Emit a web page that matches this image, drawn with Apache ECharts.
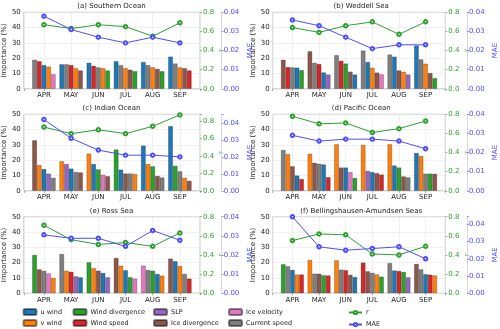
<!DOCTYPE html>
<html>
<head>
<meta charset="utf-8">
<script src="https://cdn.jsdelivr.net/npm/echarts@6/dist/echarts.min.js"></script>
<style>
  html, body { margin: 0; padding: 0; background: #fff; }
  #chart { width: 500px; height: 329px; }
</style>
</head>
<body>
<div id="chart"></div>
<script>
const months = ['APR', 'MAY', 'JUN', 'JUL', 'AUG', 'SEP'];
const varKeys = ['u', 'v', 'wd', 'ws', 'slp', 'id', 'iv', 'cs'];
const varNames = ['u wind', 'v wind', 'Wind divergence', 'Wind speed', 'SLP', 'Ice divergence', 'Ice velocity', 'Current speed'];

// (a) Southern Ocean - top 5 variables per month, sorted
const soVars = [['cs','ws','u','v','iv'], ['u','cs','ws','v','id'], ['u','ws','cs','v','wd'], ['u','cs','v','id','wd'], ['u','cs','v','id','wd'], ['u','cs','v','id','ws']];
const soImp = [[19,18,15.5,14.5,9.5], [16,16,15.5,13.5,12], [17,15,14,13.5,12], [18,15.5,13.5,12.5,11.5], [17.5,15.5,14,13,11.5], [21,16.5,14,13.5,12]];
const soR = [0.67, 0.63, 0.67, 0.65, 0.55, 0.69];
const soMae = [0.038, 0.031, 0.027, 0.024, 0.027, 0.024];

// (b) Weddell Sea
const wsVars = [['id','ws','cs','u','wd'], ['id','cs','ws','u','slp'], ['cs','ws','wd','id','u'], ['cs','u','v','id','iv'], ['cs','u','id','v','slp'], ['u','cs','v','id','wd']];
const wsImp = [[19,14.2,14,13.8,12.2], [24.5,17,16.2,10.7,9.3], [22,18.3,16.5,11.2,9.3], [25,17.5,13.7,10.6,9.4], [22.4,21,12,11.1,9.3], [28.3,19.2,16.4,10.3,7]];
const wsR = [0.64, 0.59, 0.66, 0.70, 0.57, 0.70];
const wsMae = [0.036, 0.033, 0.027, 0.021, 0.023, 0.023];

// (c) Indian Ocean
const ioVars = [['id','v','u','slp','cs'], ['v','slp','u','cs','id'], ['v','u','wd','iv','id'], ['wd','u','id','cs','v'], ['u','v','wd','id','cs'], ['u','wd','cs','v','id']];
const ioImp = [[33,16.8,14.2,11.2,8.5], [19.3,17.5,14.5,12.3,12], [24.3,17.5,14,10.5,9.5], [27,13.8,11.3,11.3,11], [29.5,17.5,16,9.7,8.7], [42.3,16.3,12.7,8.5,6.5]];
const ioR = [0.73, 0.655, 0.70, 0.655, 0.74, 0.87];
const ioMae = [0.042, 0.031, 0.024, 0.021, 0.021, 0.020];

// (d) Pacific Ocean
const poVars = [['cs','v','id','u','ws'], ['v','id','cs','u','ws'], ['v','id','u','iv','wd'], ['v','slp','u','id','ws'], ['v','u','wd','id','cs'], ['u','v','cs','wd','id']];
const poImp = [[26.7,24,16,10,7.7], [24.2,18.3,17.7,17.2,8.9], [30.4,15.2,15.2,12.2,8.4], [30,13,12.2,11.5,10.6], [30.4,16.5,15.2,9.4,8.8], [24.7,22.8,11.2,11.2,11.1]];
const poR = [0.78, 0.70, 0.71, 0.61, 0.65, 0.73];
const poMae = [0.029, 0.026, 0.027, 0.027, 0.026, 0.022];

// (e) Ross Sea
const rsVars = [['wd','id','cs','iv','v'], ['cs','v','ws','slp','u'], ['wd','v','id','u','slp'], ['id','v','u','wd','iv'], ['iv','cs','wd','u','v'], ['id','u','v','cs','ws']];
const rsImp = [[25,15.6,14.6,13,10], [25.6,14.7,14,11,10.4], [20.2,16.3,14.7,13.2,10.4], [23,18,15,10.4,9.5], [18,15.2,14.7,12.6,11.5], [22.6,20.9,17.8,12.6,9.5]];
const rsR = [0.71, 0.56, 0.51, 0.53, 0.49, 0.63];
const rsMae = [0.0305, 0.0287, 0.0287, 0.0245, 0.0328, 0.0277];

// (f) Bellingshausen-Amundsen Seas
const baVars = [['wd','cs','u','v','ws'], ['v','cs','id','wd','ws'], ['v','cs','ws','id','u'], ['ws','id','cs','v','wd'], ['cs','u','ws','wd','slp'], ['id','cs','u','ws','v']];
const baImp = [[18.9,17.6,15.2,12.2,12.2], [21.7,12.8,12.7,11.7,11.6], [21.5,15.4,15,12,10.6], [20,14.3,13.3,12.3,10.8], [19.7,14.8,14.5,13.9,10.4], [19.1,15.6,12.4,12.1,11.6]];
const baR = [0.55, 0.62, 0.61, 0.41, 0.40, 0.49];
const baMae = [0.0445, 0.027, 0.025, 0.026, 0.027, 0.020];

const varColors = {
  u: '#1f77b4', v: '#ff7f0e', wd: '#2ca02c', ws: '#d62728',
  slp: '#9467bd', id: '#8c564b', iv: '#e377c2', cs: '#7f7f7f'
};
const rColor = '#2ca02c';
const maeColor = '#4d4dff';
const font = 'DejaVu Sans';

const panels = [
  { title: '(a) Southern Ocean', vars: soVars, imp: soImp, r: soR, mae: soMae, rMax: 0.8, maeMax: 0.04 },
  { title: '(b) Weddell Sea', vars: wsVars, imp: wsImp, r: wsR, mae: wsMae, rMax: 0.8, maeMax: 0.04 },
  { title: '(c) Indian Ocean', vars: ioVars, imp: ioImp, r: ioR, mae: ioMae, rMax: 0.877, maeMax: 0.0451 },
  { title: '(d) Pacific Ocean', vars: poVars, imp: poImp, r: poR, mae: poMae, rMax: 0.8, maeMax: 0.04 },
  { title: '(e) Ross Sea', vars: rsVars, imp: rsImp, r: rsR, mae: rsMae, rMax: 0.8, maeMax: 0.04 },
  { title: '(f) Bellingshausen-Amundsen Seas', vars: baVars, imp: baImp, r: baR, mae: baMae, rMax: 0.8, maeMax: 0.0445 }
];

const colLeft = [23, 272.7];
const rowTop = [12.3, 114.3, 216.7];
const gw = 177, gh = 76.5;

function onStep(v, step, digits) {
  const k = v / step;
  return Math.abs(k - Math.round(k)) < 1e-6 ? v.toFixed(digits) : '';
}

const grids = [], xAxes = [], yAxes = [], series = [], titles = [];

panels.forEach((p, k) => {
  const left = colLeft[k % 2], top = rowTop[Math.floor(k / 2)];
  grids.push({ left: left, top: top, width: gw, height: gh, show: true,
    borderColor: '#b5b5b5', borderWidth: 0.8 });
  titles.push({ text: p.title, left: left + gw / 2, top: top - 9.5, textAlign: 'center', padding: 0,
    textStyle: { fontSize: 7, fontWeight: 'normal', color: '#222', fontFamily: font } });
  xAxes.push({
    gridIndex: k, type: 'value', min: -0.74, max: 5.74, minInterval: 1, maxInterval: 1,
    axisLine: { show: false },
    axisTick: { show: true, length: 2, lineStyle: { color: '#666', width: 0.6 } },
    axisLabel: { fontSize: 7, color: '#222', margin: 3, fontFamily: font,
      formatter: v => Number.isInteger(v) && months[v] ? months[v] : '' },
    splitLine: { show: true, lineStyle: { color: '#e8e8e8', width: 0.6 } }
  });
  yAxes.push({
    gridIndex: k, type: 'value', position: 'left', min: 0, max: 50, interval: 10,
    name: 'Importance (%)', nameLocation: 'middle', nameGap: 13,
    nameTextStyle: { fontSize: 7, color: '#222', fontFamily: font },
    axisLine: { show: false },
    axisTick: { show: false },
    axisLabel: { fontSize: 7, color: '#222', margin: 3, fontFamily: font },
    splitLine: { show: true, lineStyle: { color: '#e8e8e8', width: 0.6 } }
  });
  yAxes.push({
    gridIndex: k, type: 'value', position: 'right', min: 0, max: p.rMax, interval: 0.2,
    name: 'r', nameLocation: 'middle', nameGap: 14,
    nameTextStyle: { fontSize: 7, color: rColor, fontFamily: font },
    axisLine: { show: false },
    axisTick: { show: true, length: 2, lineStyle: { color: rColor, width: 0.6 } },
    axisLabel: { fontSize: 7, color: rColor, margin: 3, fontFamily: font, formatter: v => onStep(v, 0.2, 1) },
    splitLine: { show: false }
  });
  yAxes.push({
    gridIndex: k, type: 'value', position: 'right', offset: 21.7, min: 0, max: p.maeMax, interval: 0.01,
    name: 'MAE', nameLocation: 'middle', nameGap: 25,
    nameTextStyle: { fontSize: 7, color: maeColor, fontFamily: font },
    axisLine: { show: true, lineStyle: { color: '#cfcfcf', width: 0.8 } },
    axisTick: { show: true, length: 2, lineStyle: { color: maeColor, width: 0.6 } },
    axisLabel: { fontSize: 7, color: maeColor, margin: 2, fontFamily: font, formatter: v => onStep(v, 0.01, 2) },
    splitLine: { show: false }
  });
  for (let j = 0; j < 5; j++) {
    series.push({
      type: 'bar', xAxisIndex: k, yAxisIndex: 3 * k,
      barGap: '0%', barCategoryGap: '14%', silent: true,
      itemStyle: { borderColor: 'rgba(0,0,0,0.45)', borderWidth: 0.5 },
      data: months.map((m, i) => ({
        value: [i, p.imp[i][j]],
        itemStyle: { color: varColors[p.vars[i][j]] }
      }))
    });
  }
  series.push({
    type: 'line', name: 'r', xAxisIndex: k, yAxisIndex: 3 * k + 1, z: 5,
    symbol: 'emptyCircle', symbolSize: 3.5, color: rColor,
    lineStyle: { width: 1, color: rColor }, itemStyle: { color: rColor, borderWidth: 0.7 },
    data: p.r.map((v, i) => [i, v])
  });
  series.push({
    type: 'line', name: 'MAE', xAxisIndex: k, yAxisIndex: 3 * k + 2, z: 5,
    symbol: 'emptyCircle', symbolSize: 3.5, color: maeColor,
    lineStyle: { width: 1, color: maeColor }, itemStyle: { color: maeColor, borderWidth: 0.7 },
    data: p.mae.map((v, i) => [i, v])
  });
});

// hidden grid that only carries legend entries for the variables
const hidden = panels.length;
grids.push({ left: 0, top: 0, width: 1, height: 1, show: false });
xAxes.push({ gridIndex: hidden, type: 'value', show: false });
yAxes.push({ gridIndex: hidden, type: 'value', show: false });
varKeys.forEach((key, i) => {
  series.push({
    type: 'bar', name: varNames[i], xAxisIndex: hidden, yAxisIndex: yAxes.length - 1,
    itemStyle: { color: varColors[key], borderColor: 'rgba(0,0,0,0.45)', borderWidth: 0.5 },
    data: []
  });
});

function legendCol(left, names, h) {
  return {
    orient: 'vertical', left: left, top: 308, padding: 0, itemGap: 9 - h,
    itemWidth: 13, itemHeight: h, selectedMode: false,
    textStyle: { fontSize: 6.5, color: '#222', fontFamily: font, padding: [0, 0, 0, -1] },
    data: names
  };
}

const chart = echarts.init(document.getElementById('chart'), null, { renderer: 'canvas' });
chart.setOption({
  animation: false,
  textStyle: { fontFamily: font },
  title: titles,
  grid: grids,
  xAxis: xAxes,
  yAxis: yAxes,
  legend: [
    legendCol(22.5, ['u wind', 'v wind'], 6),
    legendCol(72.5, ['Wind divergence', 'Wind speed'], 6),
    legendCol(153, ['SLP', 'Ice divergence'], 6),
    legendCol(228, ['Ice velocity', 'Current speed'], 6),
    Object.assign(legendCol(348, ['r', 'MAE'], 4), { top: 309 })
  ],
  series: series
});
</script>
</body>
</html>
